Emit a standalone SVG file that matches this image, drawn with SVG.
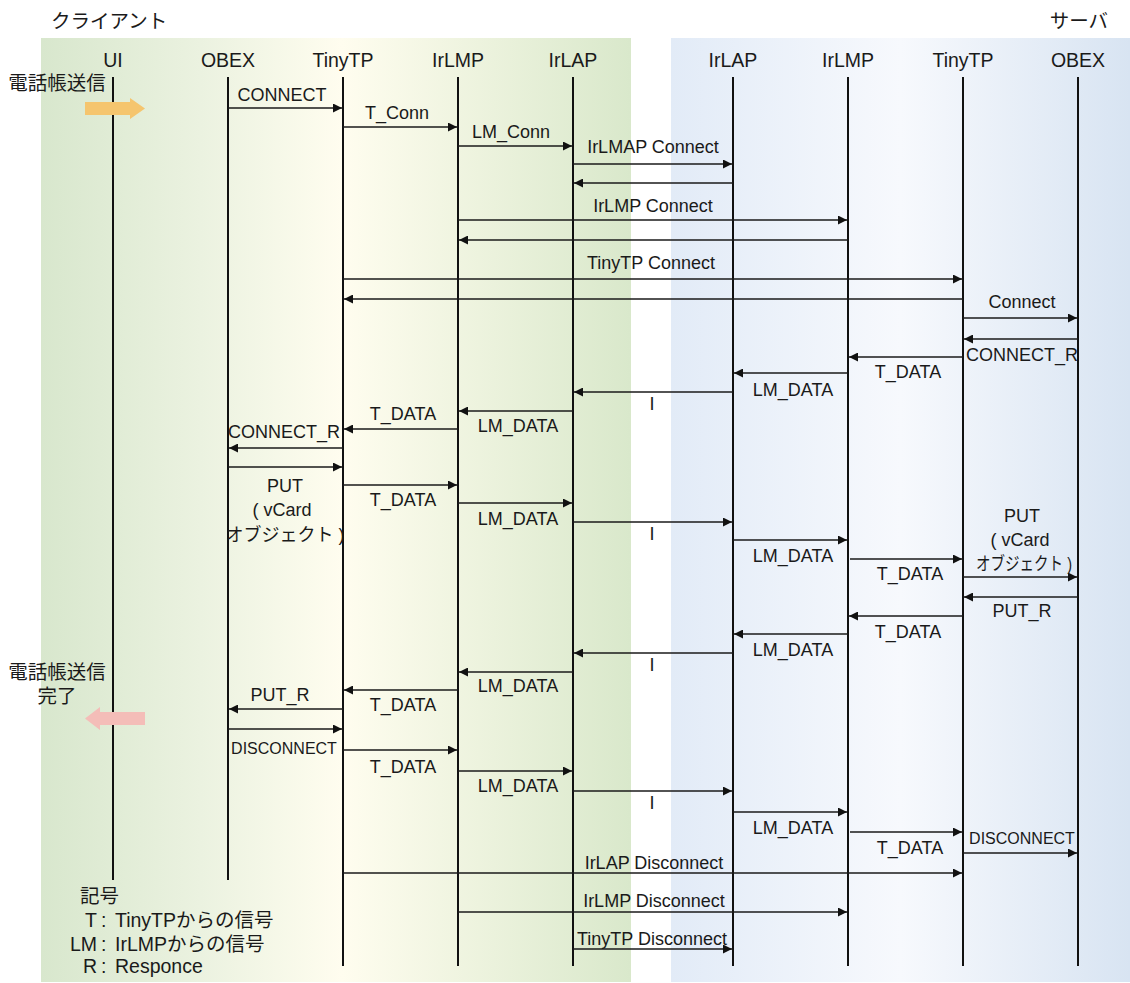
<svg xmlns="http://www.w3.org/2000/svg" width="1130" height="983" viewBox="0 0 1130 983">
<style>
text{font-family:"Liberation Sans","Noto Sans CJK JP",sans-serif;fill:#1a1a1a}
.hd{font-size:19.5px;text-anchor:middle}
.side{font-size:19.5px}
.lb{font-size:18px;text-anchor:middle}
.sm{font-size:16px;text-anchor:middle}
.life{stroke:#111;stroke-width:2;fill:none}
.msg{stroke:#1a1a1a;stroke-width:1.4;fill:none;marker-end:url(#ah)}
.lg{font-size:19.5px}
</style>
<defs>
<marker id="ah" markerUnits="userSpaceOnUse" markerWidth="10" markerHeight="9" refX="9" refY="4.5" orient="auto">
<path d="M0,0 L9,4.5 L0,9 z" fill="#111"/>
</marker>
<linearGradient id="gl" x1="0" y1="0" x2="1" y2="0">
<stop offset="0" stop-color="#d8e7cd"/>
<stop offset="0.27" stop-color="#ebf2e0"/>
<stop offset="0.51" stop-color="#fffdef"/>
<stop offset="1" stop-color="#d9e8cb"/>
</linearGradient>
<linearGradient id="gr" x1="0" y1="0" x2="1" y2="0">
<stop offset="0" stop-color="#e2ebf7"/>
<stop offset="0.5" stop-color="#f7f9fd"/>
<stop offset="1" stop-color="#d8e4f2"/>
</linearGradient>
</defs>
<g id="background">
<rect x="41" y="38" width="590" height="944" fill="url(#gl)"/>
<rect x="671" y="38" width="459" height="944" fill="url(#gr)"/>
</g>
<g id="titles">
<text class="side" x="51" y="28">クライアント</text>
<text class="side" x="1108" y="28" text-anchor="end">サーバ</text>
</g>
<g id="client-ui"><text class="hd" x="113" y="67">UI</text><line class="life" x1="113" y1="77" x2="113" y2="880"/></g>
<g id="client-obex"><text class="hd" x="228" y="67">OBEX</text><line class="life" x1="228" y1="77" x2="228" y2="880"/></g>
<g id="client-tinytp"><text class="hd" x="343" y="67">TinyTP</text><line class="life" x1="343" y1="77" x2="343" y2="966"/></g>
<g id="client-irlmp"><text class="hd" x="458" y="67">IrLMP</text><line class="life" x1="458" y1="77" x2="458" y2="966"/></g>
<g id="client-irlap"><text class="hd" x="573" y="67">IrLAP</text><line class="life" x1="573" y1="77" x2="573" y2="966"/></g>
<g id="server-irlap"><text class="hd" x="733" y="67">IrLAP</text><line class="life" x1="733" y1="77" x2="733" y2="966"/></g>
<g id="server-irlmp"><text class="hd" x="848" y="67">IrLMP</text><line class="life" x1="848" y1="77" x2="848" y2="966"/></g>
<g id="server-tinytp"><text class="hd" x="963" y="67">TinyTP</text><line class="life" x1="963" y1="77" x2="963" y2="966"/></g>
<g id="server-obex"><text class="hd" x="1078" y="67">OBEX</text><line class="life" x1="1078" y1="77" x2="1078" y2="966"/></g>
<g id="event-start">
<text class="side" x="57" y="90" text-anchor="middle">電話帳送信</text>
<polygon points="85,102 130,102 130,98 145,108.5 130,119 130,115 85,115" fill="#f5c56e"/>
</g>
<g id="event-end">
<text class="side" x="57" y="679" text-anchor="middle">電話帳送信</text>
<text class="side" x="57" y="703" text-anchor="middle">完了</text>
<polygon points="85,718.5 100,707 100,712 145,712 145,725 100,725 100,730" fill="#f4bdb8"/>
</g>
<g id="connectors">
<line class="msg" x1="228" y1="108" x2="342" y2="108"/>
<line class="msg" x1="343" y1="127" x2="457" y2="127"/>
<line class="msg" x1="458" y1="146" x2="572" y2="146"/>
<line class="msg" x1="573" y1="164" x2="732" y2="164"/>
<line class="msg" x1="733" y1="183" x2="574" y2="183"/>
<line class="msg" x1="458" y1="220" x2="847" y2="220"/>
<line class="msg" x1="848" y1="240" x2="459" y2="240"/>
<line class="msg" x1="343" y1="279" x2="962" y2="279"/>
<line class="msg" x1="963" y1="299" x2="344" y2="299"/>
<line class="msg" x1="963" y1="318" x2="1077" y2="318"/>
<line class="msg" x1="1078" y1="339" x2="964" y2="339"/>
<line class="msg" x1="963" y1="357" x2="849" y2="357"/>
<line class="msg" x1="848" y1="373" x2="734" y2="373"/>
<line class="msg" x1="733" y1="392" x2="574" y2="392"/>
<line class="msg" x1="573" y1="411" x2="459" y2="411"/>
<line class="msg" x1="458" y1="429" x2="344" y2="429"/>
<line class="msg" x1="343" y1="448" x2="229" y2="448"/>
<line class="msg" x1="228" y1="467" x2="342" y2="467"/>
<line class="msg" x1="343" y1="485" x2="457" y2="485"/>
<line class="msg" x1="458" y1="503" x2="572" y2="503"/>
<line class="msg" x1="573" y1="522" x2="732" y2="522"/>
<line class="msg" x1="733" y1="540" x2="847" y2="540"/>
<line class="msg" x1="850" y1="559" x2="962" y2="559"/>
<line class="msg" x1="963" y1="577" x2="1077" y2="577"/>
<line class="msg" x1="1078" y1="597" x2="964" y2="597"/>
<line class="msg" x1="963" y1="616" x2="849" y2="616"/>
<line class="msg" x1="848" y1="634" x2="734" y2="634"/>
<line class="msg" x1="733" y1="653" x2="574" y2="653"/>
<line class="msg" x1="573" y1="672" x2="459" y2="672"/>
<line class="msg" x1="458" y1="690" x2="344" y2="690"/>
<line class="msg" x1="343" y1="709" x2="229" y2="709"/>
<line class="msg" x1="228" y1="729" x2="342" y2="729"/>
<line class="msg" x1="343" y1="750" x2="457" y2="750"/>
<line class="msg" x1="458" y1="771" x2="572" y2="771"/>
<line class="msg" x1="573" y1="791" x2="732" y2="791"/>
<line class="msg" x1="733" y1="812" x2="847" y2="812"/>
<line class="msg" x1="850" y1="832" x2="962" y2="832"/>
<line class="msg" x1="963" y1="853" x2="1077" y2="853"/>
<line class="msg" x1="343" y1="873" x2="962" y2="873"/>
<line class="msg" x1="458" y1="912" x2="847" y2="912"/>
<line class="msg" x1="573" y1="949" x2="732" y2="949"/>
<text class="lb" x="282" y="101">CONNECT</text>
<text class="lb" x="397" y="119">T_Conn</text>
<text class="lb" x="511" y="138">LM_Conn</text>
<text class="lb" x="653" y="153">IrLMAP Connect</text>
<text class="lb" x="653" y="212">IrLMP Connect</text>
<text class="lb" x="651" y="269">TinyTP Connect</text>
<text class="lb" x="1022" y="308">Connect</text>
<text class="lb" x="1022" y="361">CONNECT_R</text>
<text class="lb" x="908" y="378">T_DATA</text>
<text class="lb" x="793" y="396">LM_DATA</text>
<text class="lb" x="652" y="410">I</text>
<text class="lb" x="518" y="432">LM_DATA</text>
<text class="lb" x="403" y="420">T_DATA</text>
<text class="lb" x="284" y="438">CONNECT_R</text>
<text class="lb" x="285" y="492">PUT</text>
<text class="lb" x="282" y="516">( vCard</text>
<text class="lb" x="285" y="541" font-size="17">オブジェクト )</text>
<text class="lb" x="403" y="506">T_DATA</text>
<text class="lb" x="518" y="525">LM_DATA</text>
<text class="lb" x="652" y="540">I</text>
<text class="lb" x="793" y="562">LM_DATA</text>
<text class="lb" x="910" y="580">T_DATA</text>
<text class="lb" x="1022" y="522">PUT</text>
<text class="lb" x="1020" y="546">( vCard</text>
<text class="lb" x="1024" y="570" font-size="17" textLength="96" lengthAdjust="spacingAndGlyphs">オブジェクト )</text>
<text class="lb" x="1022" y="617">PUT_R</text>
<text class="lb" x="908" y="638">T_DATA</text>
<text class="lb" x="793" y="656">LM_DATA</text>
<text class="lb" x="652" y="671">I</text>
<text class="lb" x="518" y="692">LM_DATA</text>
<text class="lb" x="403" y="711">T_DATA</text>
<text class="lb" x="280" y="701">PUT_R</text>
<text class="sm" x="284" y="754">DISCONNECT</text>
<text class="lb" x="403" y="773">T_DATA</text>
<text class="lb" x="518" y="792">LM_DATA</text>
<text class="lb" x="652" y="809">I</text>
<text class="lb" x="793" y="834">LM_DATA</text>
<text class="lb" x="910" y="854">T_DATA</text>
<text class="sm" x="1022" y="844">DISCONNECT</text>
<text class="lb" x="654" y="869">IrLAP Disconnect</text>
<text class="lb" x="654" y="907">IrLMP Disconnect</text>
<text class="lb" x="652" y="945">TinyTP Disconnect</text>
</g>
<g id="legend">
<text class="lg" x="80" y="903">記号</text>
<text class="lg" x="97" y="927" text-anchor="end">T</text>
<text class="lg" x="101" y="927">:</text>
<text class="lg" x="115" y="927">TinyTPからの信号</text>
<text class="lg" x="97" y="951" text-anchor="end">LM</text>
<text class="lg" x="101" y="951">:</text>
<text class="lg" x="115" y="951">IrLMPからの信号</text>
<text class="lg" x="97" y="973" text-anchor="end">R</text>
<text class="lg" x="101" y="973">:</text>
<text class="lg" x="115" y="973">Responce</text>
</g>
</svg>
